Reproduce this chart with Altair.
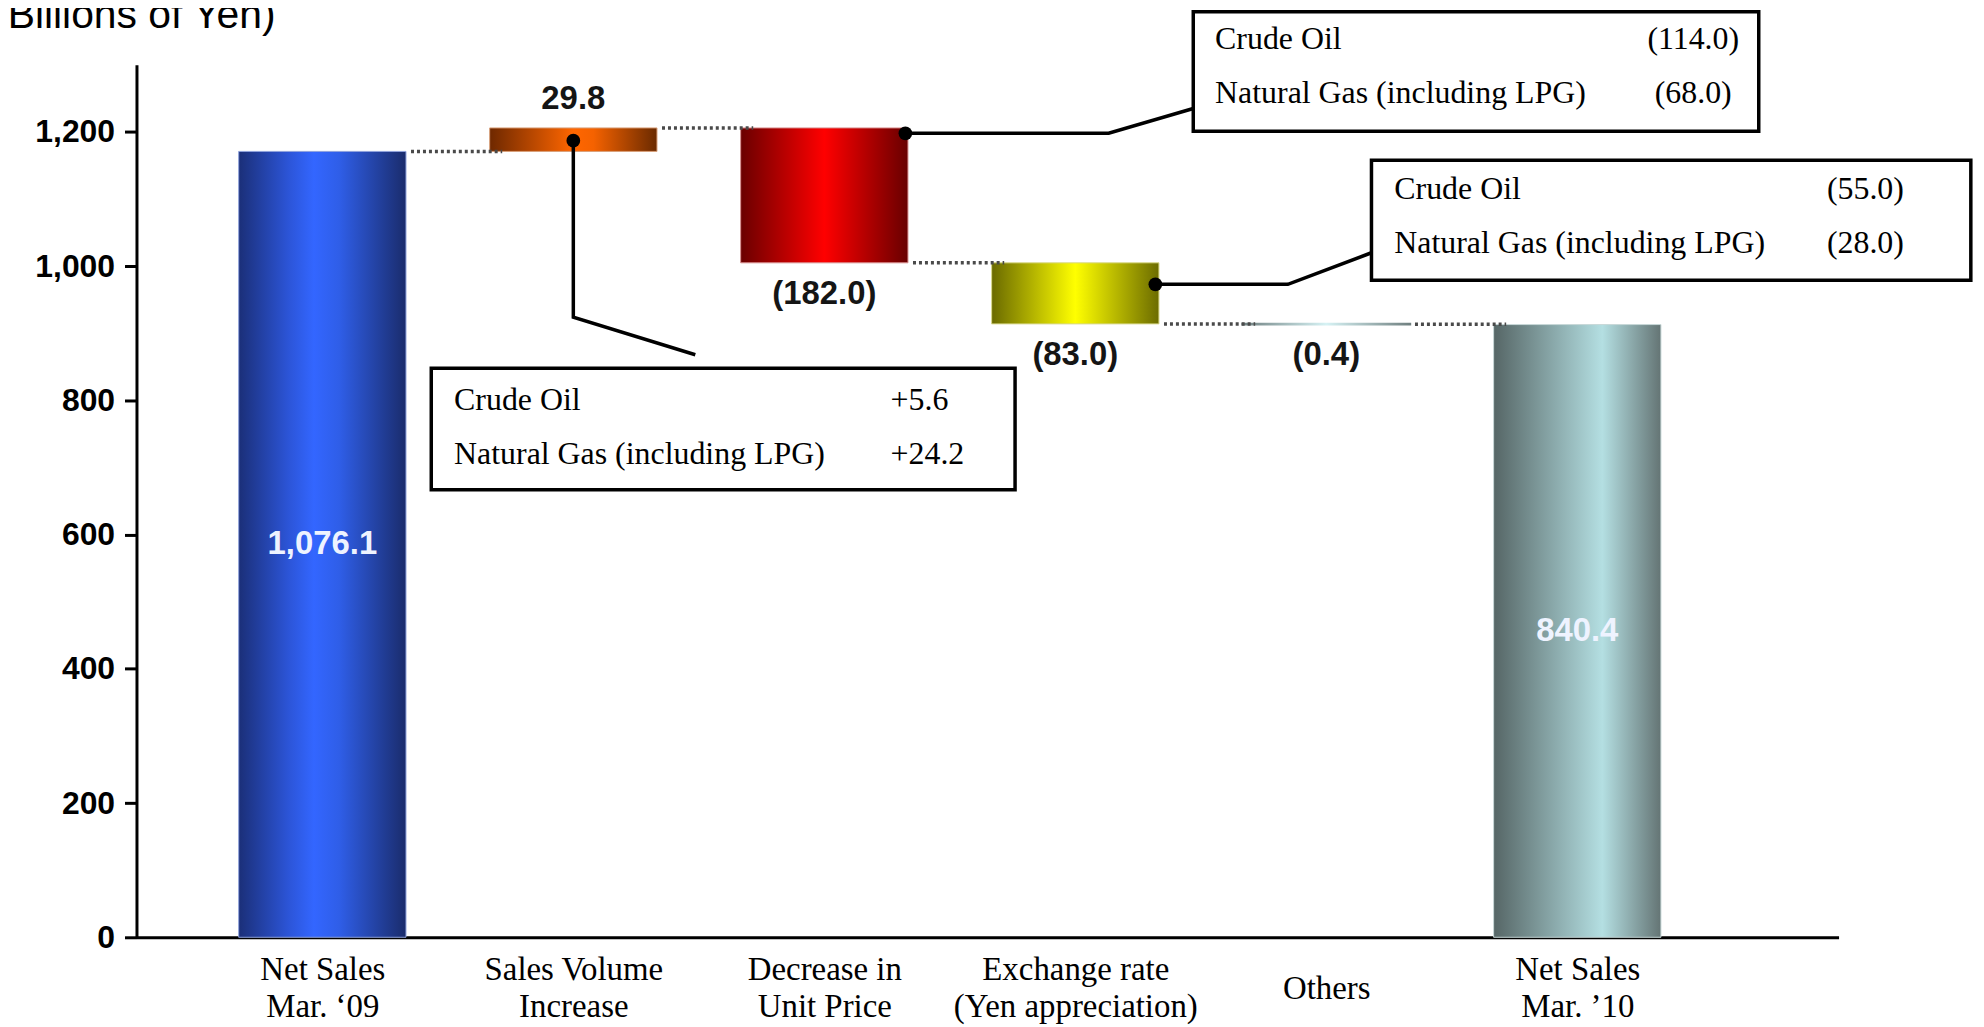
import json
import altair as alt
import pandas as pd

# ---------------- data ----------------
CATEGORIES = ["Net Sales|Mar. \u201809", "Sales Volume|Increase", "Decrease in|Unit Price",
              "Exchange rate|(Yen appreciation)", "Others", "Net Sales|Mar. \u201910"]
KINDS = ["total", "delta", "delta", "delta", "delta", "total"]
# bar heights / changes as read against the printed y-axis
VALUES = [1171, 35, -201, -91, -0.4, 913]
LABELS = ["1,076.1", "29.8", "(182.0)", "(83.0)", "(0.4)", "840.4"]

BOX_ROWS = ["Crude Oil", "Natural Gas (including LPG)"]
PRICE_VALUES = ["(114.0)", "(68.0)"]      # Decrease in Unit Price breakdown
FX_VALUES = ["(55.0)", "(28.0)"]          # Exchange rate breakdown
VOLUME_VALUES = ["+5.6", "+24.2"]         # Sales Volume Increase breakdown

Y_TICKS = [0, 200, 400, 600, 800, 1000, 1200]
TITLE = "(Billions of Yen)"

# ---------------- waterfall table ----------------
rows = []
cum = 0.0
for i, (c, k, v, l) in enumerate(zip(CATEGORIES, KINDS, VALUES, LABELS)):
    if k == "total":
        start, end = 0.0, float(v)
    else:
        start, end = cum, cum + v
    cum = end
    rows.append(dict(i=i, cat=c, kind=k, delta=v, start=start, end=end,
                     lo=min(start, end), hi=max(start, end), label=l,
                     mid=(start + end) / 2))
df = pd.DataFrame(rows)
HALF = 1 / 3
df["x1"] = df["i"] - HALF
df["x2"] = df["i"] + HALF

conn = pd.DataFrame([dict(xa=i + HALF + 0.02, xb=i + 1 - HALF + 0.05, lvl=df["end"][i])
                     for i in range(len(df) - 1)])

# ---------------- scales / axes ----------------
xs = alt.Scale(domain=[-0.7405, 6.041], nice=False, zero=False)
ys = alt.Scale(domain=[0, 1300], nice=False, zero=True)

single_line = [i for i, c in enumerate(CATEGORIES) if "|" not in c]
single_test = " || ".join(f"datum.value == {i}" for i in single_line) or "false"
label_list = json.dumps(CATEGORIES, ensure_ascii=False)
XAXIS = alt.Axis(values=list(range(len(CATEGORIES))),
                 labelExpr=f"split({label_list}[datum.value], '|')",
                 ticks=False, tickSize=0, grid=False, title=None,
                 domainColor="black", domainWidth=3,
                 labelFont="Liberation Serif", labelFontSize=33, labelLineHeight=38,
                 labelColor="black", labelBaseline="middle", labelLimit=600,
                 labelPadding={"condition": {"test": single_test, "value": 51}, "value": 32},
                 labelOverlap=False, labelFlush=False, labelBound=False)
YAXIS = alt.Axis(values=Y_TICKS, format=",.0f", grid=False, title=None,
                 domainColor="black", domainWidth=3, tickColor="black", tickWidth=3,
                 tickSize=12, labelFont="Liberation Sans", labelFontWeight="bold",
                 labelFontSize=32, labelColor="black", labelPadding=10,
                 labelOverlap=False, labelFlush=False)


def X(f):
    return alt.X(f, type="quantitative", scale=xs, axis=XAXIS)


def Y(f):
    return alt.Y(f, type="quantitative", scale=ys, axis=YAXIS)


def grad(stops):
    return alt.LinearGradient(gradient="linear", x1=0, x2=1, y1=0, y2=0,
                              stops=[alt.GradientStop(offset=o, color=c) for o, c in stops])


GRADS = [
    grad([(0, "#1b2f78"), (0.3, "#2c55d8"), (0.45, "#3366ff"), (0.6, "#2f5ee8"), (1, "#1a2c6c")]),
    grad([(0, "#6e2800"), (0.5, "#ff6600"), (0.62, "#f56200"), (1, "#6a2a00")]),
    grad([(0, "#6a0000"), (0.5, "#ff0000"), (1, "#680000")]),
    grad([(0, "#6a6a00"), (0.5, "#ffff00"), (1, "#6c6c00")]),
    grad([(0, "#6f8080"), (0.5, "#d6f2f4"), (1, "#708080")]),
    grad([(0, "#566666"), (0.65, "#b4dfe2"), (1, "#647474")]),
]
EDGE = ["#8fa2dc", "#d9a07a", "#d98f8f", "#d8d88a", None, "#c8d8d8"]

layers = []
for i, g in enumerate(GRADS):
    if KINDS[i] == "delta" and abs(VALUES[i]) < 2:
        extra = dict(stroke=g, strokeWidth=2.5)
    else:
        extra = dict(stroke=EDGE[i], strokeWidth=1)
    layers.append(
        alt.Chart(df).transform_filter(f"datum.i == {i}")
        .mark_bar(fill=g, **extra)
        .encode(x=X("x1"), x2="x2", y=Y("lo"), y2="hi")
    )

# dotted connectors
layers.append(
    alt.Chart(conn).mark_rule(color="#4a4a4a", strokeWidth=3.5, strokeDash=[3, 3])
    .encode(x=X("xa"), x2="xb", y=Y("lvl"))
)

# value labels
TXT = dict(font="Liberation Sans", fontWeight="bold", fontSize=33)
layers.append(
    alt.Chart(df).transform_filter("datum.kind == 'total'")
    .mark_text(color="#eef3ff", baseline="middle", align="center", **TXT)
    .encode(x=X("i"), y=Y("mid"), text="label:N")
)
layers.append(
    alt.Chart(df).transform_filter("datum.kind == 'delta' && datum.delta > 0")
    .mark_text(color="#151515", baseline="middle", align="center", dy=-29, **TXT)
    .encode(x=X("i"), y=Y("end"), text="label:N")
)
layers.append(
    alt.Chart(df).transform_filter("datum.kind == 'delta' && datum.delta < 0")
    .mark_text(color="#151515", baseline="middle", align="center", dy=31, **TXT)
    .encode(x=X("i"), y=Y("end"), text="label:N")
)

# ---------------- callouts (annotation layout, in data units) ----------------
leader = pd.DataFrame([
    dict(g="vol", o=0, x=1.0, y=1187), dict(g="vol", o=1, x=1.0, y=924), dict(g="vol", o=2, x=1.486, y=868),
    dict(g="price", o=0, x=2.323, y=1198), dict(g="price", o=1, x=3.133, y=1198), dict(g="price", o=2, x=3.470, y=1235),
    dict(g="fx", o=0, x=3.319, y=973), dict(g="fx", o=1, x=3.847, y=973), dict(g="fx", o=2, x=4.180, y=1020),
])
layers.append(
    alt.Chart(leader).mark_line(color="black", strokeWidth=3.5, strokeJoin="miter")
    .encode(x=X("x"), y=Y("y"), detail="g:N", order="o:Q")
)
layers.append(
    alt.Chart(leader).transform_filter("datum.o == 0")
    .mark_point(filled=True, color="black", opacity=1, size=190)
    .encode(x=X("x"), y=Y("y"))
)

boxes = pd.DataFrame([
    dict(b="price", xa=3.470, xb=5.723, ya=1201, yb=1379),
    dict(b="fx", xa=4.180, xb=6.568, ya=979, yb=1158),
    dict(b="vol", xa=0.434, xb=2.760, ya=667, yb=848),
])
layers.append(
    alt.Chart(boxes).mark_rect(fill="white", stroke="black", strokeWidth=3.5)
    .encode(x=X("xa"), x2="xb", y=Y("ya"), y2="yb")
)

names = pd.DataFrame(
    [dict(x=3.557, y=1323 - 80 * r, t=BOX_ROWS[r]) for r in range(2)]
    + [dict(x=4.271, y=1100 - 80 * r, t=BOX_ROWS[r]) for r in range(2)]
    + [dict(x=0.525, y=785 - 80 * r, t=BOX_ROWS[r]) for r in range(2)]
)
vals_c = pd.DataFrame(
    [dict(x=5.462, y=1323 - 80 * r, t=PRICE_VALUES[r]) for r in range(2)]
    + [dict(x=6.148, y=1100 - 80 * r, t=FX_VALUES[r]) for r in range(2)]
)
vals_l = pd.DataFrame([dict(x=2.264, y=785 - 80 * r, t=VOLUME_VALUES[r]) for r in range(2)])
SERIF = dict(font="Liberation Serif", fontSize=32, color="black", baseline="alphabetic")
layers.append(alt.Chart(names).mark_text(align="left", **SERIF).encode(x=X("x"), y=Y("y"), text="t:N"))
layers.append(alt.Chart(vals_c).mark_text(align="center", **SERIF).encode(x=X("x"), y=Y("y"), text="t:N"))
layers.append(alt.Chart(vals_l).mark_text(align="left", **SERIF).encode(x=X("x"), y=Y("y"), text="t:N"))

# unit title (top-left, partly cut off as in the source)
layers.append(
    alt.Chart(pd.DataFrame({"t": [TITLE]}))
    .mark_text(font="Liberation Sans", fontSize=41, color="black", align="left", baseline="alphabetic")
    .encode(text="t:N", x=alt.value(-143), y=alt.value(-37))
)

chart = (
    alt.layer(*layers)
    .properties(width=1709, height=876,
                padding={"left": 129, "top": 55, "right": 138, "bottom": 88},
                autosize=alt.AutoSizeParams(type="none"))
    .configure_view(stroke=None)
)

chart.save("out.html", embed_options={"renderer": "svg", "actions": False})
